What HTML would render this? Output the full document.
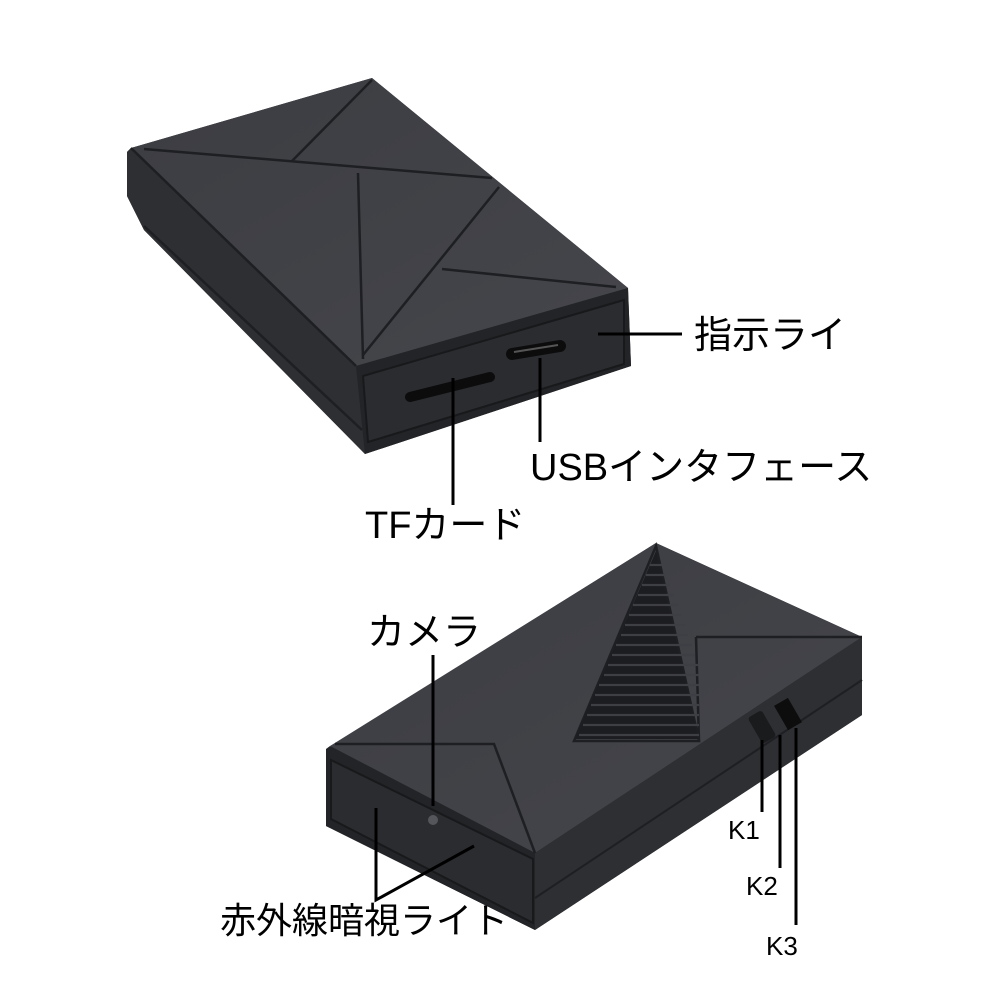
<!DOCTYPE html>
<html><head><meta charset="utf-8"><style>
html,body{margin:0;padding:0;background:#fff;}
svg{display:block}
text{font-family:"Liberation Sans","Noto Sans CJK JP",sans-serif;fill:#000;}
</style></head><body>
<svg width="1000" height="1000" viewBox="0 0 1000 1000" xmlns="http://www.w3.org/2000/svg">
<defs>
<linearGradient id="tg" x1="0" y1="0" x2="1" y2="1"><stop offset="0" stop-color="#3c3d42"/><stop offset="1" stop-color="#45464b"/></linearGradient>
</defs>
<!-- TOP BOX -->
<polygon points="127,152 131,148 372,78 628,288 631,366 365,454 144,230 127,196" fill="#2a2b2f"/>
<polygon points="127,152 131,148 356,366 365,454 144,230 127,196" fill="#2e2f33"/>
<polygon points="131,148 372,78 628,288 356,366" fill="url(#tg)"/>
<polygon points="356,366 628,288 631,366 365,454" fill="#232427"/>
<polygon points="363,376 624,300 624,364 368,442" fill="#2b2c30" stroke="#18191b" stroke-width="2"/>
<g stroke="#1e1f22" stroke-width="2.5" fill="none">
<line x1="144" y1="149" x2="492" y2="178"/>
<line x1="372" y1="80" x2="292" y2="161"/>
<line x1="358" y1="173" x2="363" y2="359"/>
<line x1="499" y1="187" x2="363" y2="355"/>
<line x1="442" y1="269" x2="616" y2="287"/>
<line x1="131" y1="148" x2="356" y2="366"/>
<line x1="144" y1="226" x2="362" y2="430"/>
</g>
<line x1="410" y1="397" x2="490" y2="377" stroke="#0c0c0d" stroke-width="10" stroke-linecap="round"/>
<line x1="512" y1="354" x2="560" y2="346" stroke="#0c0c0d" stroke-width="12" stroke-linecap="round"/>
<line x1="514" y1="352" x2="558" y2="345" stroke="#555" stroke-width="2"/>
<!-- BOTTOM BOX -->
<polygon points="326,751 333,745 656,543 862,637 862,715 535,930 326,826" fill="#2a2b2f"/>
<polygon points="330,746 656,543 862,637 535,853" fill="url(#tg)"/>
<polygon points="535,853 862,637 862,715 535,930" fill="#2e2f33"/>
<polygon points="326,749 330,746 535,853 535,930 326,826" fill="#232427"/>
<polygon points="331,760 533,859 533,923 331,819" fill="#2b2c30" stroke="#18191b" stroke-width="2"/>
<line x1="535" y1="898" x2="862" y2="680" stroke="#1e1f22" stroke-width="2"/>
<g stroke="#1e1f22" stroke-width="2.5" fill="none">
<polyline points="335,744 494,744 535,853"/>
<polygon points="656,546 574,741 699,741"/>
<line x1="696" y1="637" x2="862" y2="637"/>
<line x1="699" y1="741" x2="696" y2="637"/>
</g>
<polygon points="656,551 575,739 698,739" fill="#1c1d20"/>
<g stroke="#3e3f44" stroke-width="2.2">
<line x1="650" y1="565" x2="662" y2="565"/><line x1="646" y1="575" x2="666" y2="575"/>
<line x1="642" y1="585" x2="670" y2="585"/><line x1="638" y1="595" x2="674" y2="595"/>
<line x1="633" y1="605" x2="678" y2="605"/><line x1="629" y1="615" x2="681" y2="615"/>
<line x1="625" y1="625" x2="685" y2="625"/><line x1="621" y1="635" x2="688" y2="635"/>
<line x1="616" y1="645" x2="692" y2="645"/><line x1="612" y1="655" x2="695" y2="655"/>
<line x1="608" y1="665" x2="698" y2="665"/><line x1="604" y1="675" x2="699" y2="675"/>
<line x1="599" y1="685" x2="699" y2="685"/><line x1="595" y1="695" x2="699" y2="695"/>
<line x1="591" y1="705" x2="699" y2="705"/><line x1="587" y1="715" x2="699" y2="715"/>
<line x1="583" y1="725" x2="699" y2="725"/><line x1="579" y1="735" x2="699" y2="735"/>
</g>
<rect x="754" y="712" width="16" height="30" rx="3" fill="#1a1b1d" transform="rotate(-30 762 727)"/>
<rect x="780" y="700" width="16" height="28" fill="#0d0d0e" transform="rotate(-30 788 714)"/>
<circle cx="433" cy="820" r="5" fill="#55565b"/>
<!-- Label lines -->
<g stroke="#000" stroke-width="3" fill="none">
<line x1="598" y1="334" x2="682" y2="334"/>
<line x1="453" y1="378" x2="453" y2="505"/>
<line x1="540" y1="358" x2="540" y2="442"/>
<line x1="433" y1="655" x2="433" y2="806"/>
<polyline points="376,808 376,900 474,846"/>
<line x1="762" y1="740" x2="762" y2="812"/>
<line x1="780" y1="735" x2="780" y2="868"/>
<line x1="796" y1="728" x2="796" y2="925"/>
</g>
<!-- Labels -->
<text x="694" y="348" font-size="38">指示ライ</text>
<text x="530" y="480" font-size="38">USBインタフェース</text>
<text x="365" y="538" font-size="38">TFカード</text>
<text x="367" y="645" font-size="38">カメラ</text>
<text x="220" y="933" font-size="36">赤外線暗視ライト</text>
<text x="728" y="839" font-size="26">K1</text>
<text x="746" y="895" font-size="26">K2</text>
<text x="766" y="955" font-size="26">K3</text>
</svg>
</body></html>
